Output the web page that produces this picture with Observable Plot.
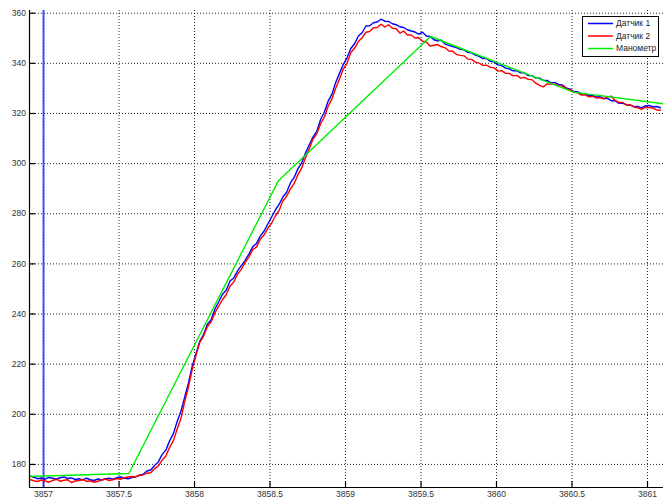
<!DOCTYPE html>
<html>
<head>
<meta charset="utf-8">
<script src="https://cdn.jsdelivr.net/npm/d3@7"></script>
<script src="https://cdn.jsdelivr.net/npm/@observablehq/plot@0.6"></script>
<style>
  html, body { margin: 0; padding: 0; background: #fff; }
  #chart { position: relative; width: 663px; height: 499px; }
  #legend { position: absolute; left: 582px; top: 16px; }
</style>
</head>
<body>
<div id="chart"></div>
<script>
// Sampling clock of the two pressure sensors (seconds)
const sampleStart = 3856.91;
const sampleStep = 0.025;

// Датчик 1
const sensor1 = [
  175.4, 174.9, 174.3, 174.6, 174.1, 174.8, 174.5, 174.2, 174.7, 175.0,
  174.4, 174.6, 174.0, 174.3, 173.8, 174.5, 173.9, 173.6, 174.2, 173.8,
  174.3, 174.5, 174.1, 174.7, 175.0, 174.6, 174.3, 174.8,
  175.0, 175.6, 176.1, 177.4, 177.8, 179.6, 181.0, 183.9, 185.7, 189.4,
  192.3, 197.1, 201.2, 206.9, 212.5, 219.3, 224.3, 229.2, 231.8, 235.9,
  237.7, 241.9, 244.8, 247.9, 249.5, 253.2, 254.4, 257.2, 259.3, 261.4,
  263.9, 266.8, 268.1, 271.1, 273.0, 275.9, 278.6, 281.5, 283.7, 286.7,
  288.6, 292.3, 294.5, 298.0, 300.3, 304.2, 307.5, 310.7, 312.9, 317.6,
  320.6, 324.9, 327.7, 332.4, 336.0, 339.5, 342.2, 345.9, 347.8, 350.9,
  352.2, 354.9, 355.0, 356.2, 356.5, 357.6, 356.8, 356.7, 355.8, 355.4,
  354.6, 354.3, 353.4, 352.9, 352.5, 351.7, 352.4, 350.9, 350.7, 349.4,
  349.0, 349.2, 347.7, 347.2, 346.7, 346.3, 345.6, 345.4, 344.4, 344.2,
  343.3, 342.8, 341.9, 341.9, 340.8, 340.6, 339.4, 339.1, 338.1, 337.8,
  337.0, 337.1, 336.2, 336.2, 335.1, 335.1, 334.1, 334.1, 333.2, 333.2,
  332.2, 332.4, 331.6, 331.4, 330.2, 329.8, 328.8, 328.7, 327.8, 328.0,
  327.1, 327.2, 326.6, 326.7, 326.0, 326.0, 325.1, 325.1, 324.1, 324.1,
  323.4, 323.4, 322.7, 322.8, 322.2, 323.0, 323.2, 322.7, 322.8, 322.3
];

// Датчик 2
const sensor2 = [
  174.0, 173.5, 173.2, 173.8, 173.4, 172.9, 173.6, 174.1, 173.3, 173.7,
  173.9, 172.8, 173.4, 173.6, 174.0, 173.2, 173.5, 172.9, 173.3, 173.8,
  174.2, 173.6, 173.9, 174.4, 174.1, 174.7, 175.0, 175.2,
  175.0, 175.8, 175.9, 176.5, 176.7, 178.3, 179.3, 181.7, 183.4, 186.8,
  189.5, 194.1, 198.3, 205.1, 210.9, 217.9, 223.5, 228.7, 231.2, 234.9,
  236.9, 240.4, 243.1, 245.7, 247.8, 251.1, 252.8, 255.9, 257.8, 260.6,
  262.7, 265.7, 266.7, 269.8, 271.5, 274.2, 276.2, 279.1, 281.3, 285.1,
  287.0, 289.8, 292.1, 295.6, 298.3, 302.3, 305.9, 309.8, 312.0, 315.9,
  318.6, 322.9, 325.8, 330.1, 333.7, 337.7, 340.0, 344.3, 346.0, 348.7,
  350.2, 352.4, 352.7, 354.2, 354.3, 355.6, 354.5, 355.4, 354.0, 353.8,
  352.1, 352.9, 351.3, 351.3, 350.1, 350.2, 348.8, 348.5, 346.9, 347.2,
  347.5, 346.6, 346.2, 344.9, 344.8, 343.5, 343.2, 343.0, 341.7, 341.6,
  340.5, 340.1, 339.2, 339.3, 338.4, 338.2, 336.9, 337.1, 336.0, 336.0,
  335.0, 335.2, 334.1, 334.4, 333.6, 333.5, 332.1, 331.2, 330.6, 331.8,
  331.7, 331.7, 331.0, 331.0, 329.8, 329.5, 328.5, 328.3, 327.4, 327.4,
  326.7, 326.8, 326.2, 326.3, 325.8, 326.6, 326.9, 325.2, 324.4, 324.4,
  323.4, 323.4, 322.6, 322.3, 321.6, 322.4, 322.4, 322.2, 321.4, 321.3
];

// Манометр: readings once per second
const gaugeTime = [3856.9, 3857.565, 3858.556, 3859.563, 3860.51, 3861.11];
const gaugeValue = [175.2, 176.4, 293.2, 350.7, 328.5, 323.8];

// Axis ticks
const xTicks = [3857, 3857.5, 3858, 3858.5, 3859, 3859.5, 3860, 3860.5, 3861];
const yTicks = [180, 200, 220, 240, 260, 280, 300, 320, 340, 360];

const seriesNames = ["Датчик 1", "Датчик 2", "Манометр"];
const seriesColors = ["#0000ff", "#ff0000", "#00ee00"];

// Build tables for the line marks
const s1 = sensor1.map((v, i) => ({t: sampleStart + i * sampleStep, v}));
const s2 = sensor2.map((v, i) => ({t: sampleStart + i * sampleStep, v}));
const g = gaugeTime.map((t, i) => ({t, v: gaugeValue[i]}));

const W = 663, H = 499;
const mL = 29, mR = 0, mT = 10, mB = 12;
const innerW = W - mL - mR, innerH = H - mT - mB;
const tickLen = 6;
const xDomain = [3856.907, 3861.106];
const yDomain = [170.8, 361.08];
const font = '"Liberation Sans", Arial, Helvetica, sans-serif';
const grid = {stroke: "#000", strokeOpacity: 0.85, strokeDasharray: "1,2", strokeWidth: 1};

const chart = Plot.plot({
  width: W,
  height: H,
  marginLeft: mL,
  marginRight: mR,
  marginTop: mT,
  marginBottom: mB,
  style: {fontFamily: font, fontSize: "8.5px", background: "#fff"},
  x: {domain: xDomain},
  y: {domain: yDomain},
  marks: [
    Plot.gridX(xTicks, grid),
    Plot.gridY(yTicks, grid),
    // inward tick marks
    Plot.ruleX(xTicks, {stroke: "#000", strokeWidth: 1.2, insetTop: innerH - tickLen}),
    Plot.ruleY(yTicks, {stroke: "#000", strokeWidth: 1.2, insetRight: innerW - tickLen}),
    Plot.axisX(xTicks, {tickSize: 0, tickPadding: 3.5, tickFormat: d => String(d), fill: "#333", label: null}),
    Plot.axisY(yTicks, {tickSize: 0, tickPadding: 3.5, tickFormat: d => String(d), fill: "#333", label: null}),
    // cursor marker
    Plot.ruleX([3857], {stroke: "#3030ff", strokeWidth: 2, strokeOpacity: 0.85}),
    Plot.line(s1, {x: "t", y: "v", stroke: seriesColors[0], strokeWidth: 1.4, clip: true}),
    Plot.line(s2, {x: "t", y: "v", stroke: seriesColors[1], strokeWidth: 1.4, clip: true}),
    Plot.line(g, {x: "t", y: "v", stroke: seriesColors[2], strokeWidth: 1.4, clip: true}),
    // axis lines
    Plot.ruleX([xDomain[0]], {stroke: "#000", strokeWidth: 1.2}),
    Plot.ruleY([yDomain[0]], {stroke: "#000", strokeWidth: 1.2})
  ]
});

const root = document.getElementById("chart");
root.appendChild(chart);

// Legend box
const lw = 77, lh = 41;
const legend = d3.select(root).append("svg")
  .attr("id", "legend")
  .attr("width", lw)
  .attr("height", lh)
  .style("font-family", font)
  .style("font-size", "8.5px");
legend.append("rect")
  .attr("x", 0.5).attr("y", 0.5)
  .attr("width", lw - 1).attr("height", lh - 1)
  .attr("fill", "#fff").attr("stroke", "#000");
seriesNames.forEach((name, i) => {
  const cy = 7.5 + i * 12.5;
  legend.append("line")
    .attr("x1", 6).attr("x2", 31)
    .attr("y1", cy).attr("y2", cy)
    .attr("stroke", seriesColors[i]).attr("stroke-width", 1.5);
  legend.append("text")
    .attr("x", 34).attr("y", cy)
    .attr("dy", "0.35em")
    .attr("fill", "#222")
    .text(name);
});
</script>
</body>
</html>
